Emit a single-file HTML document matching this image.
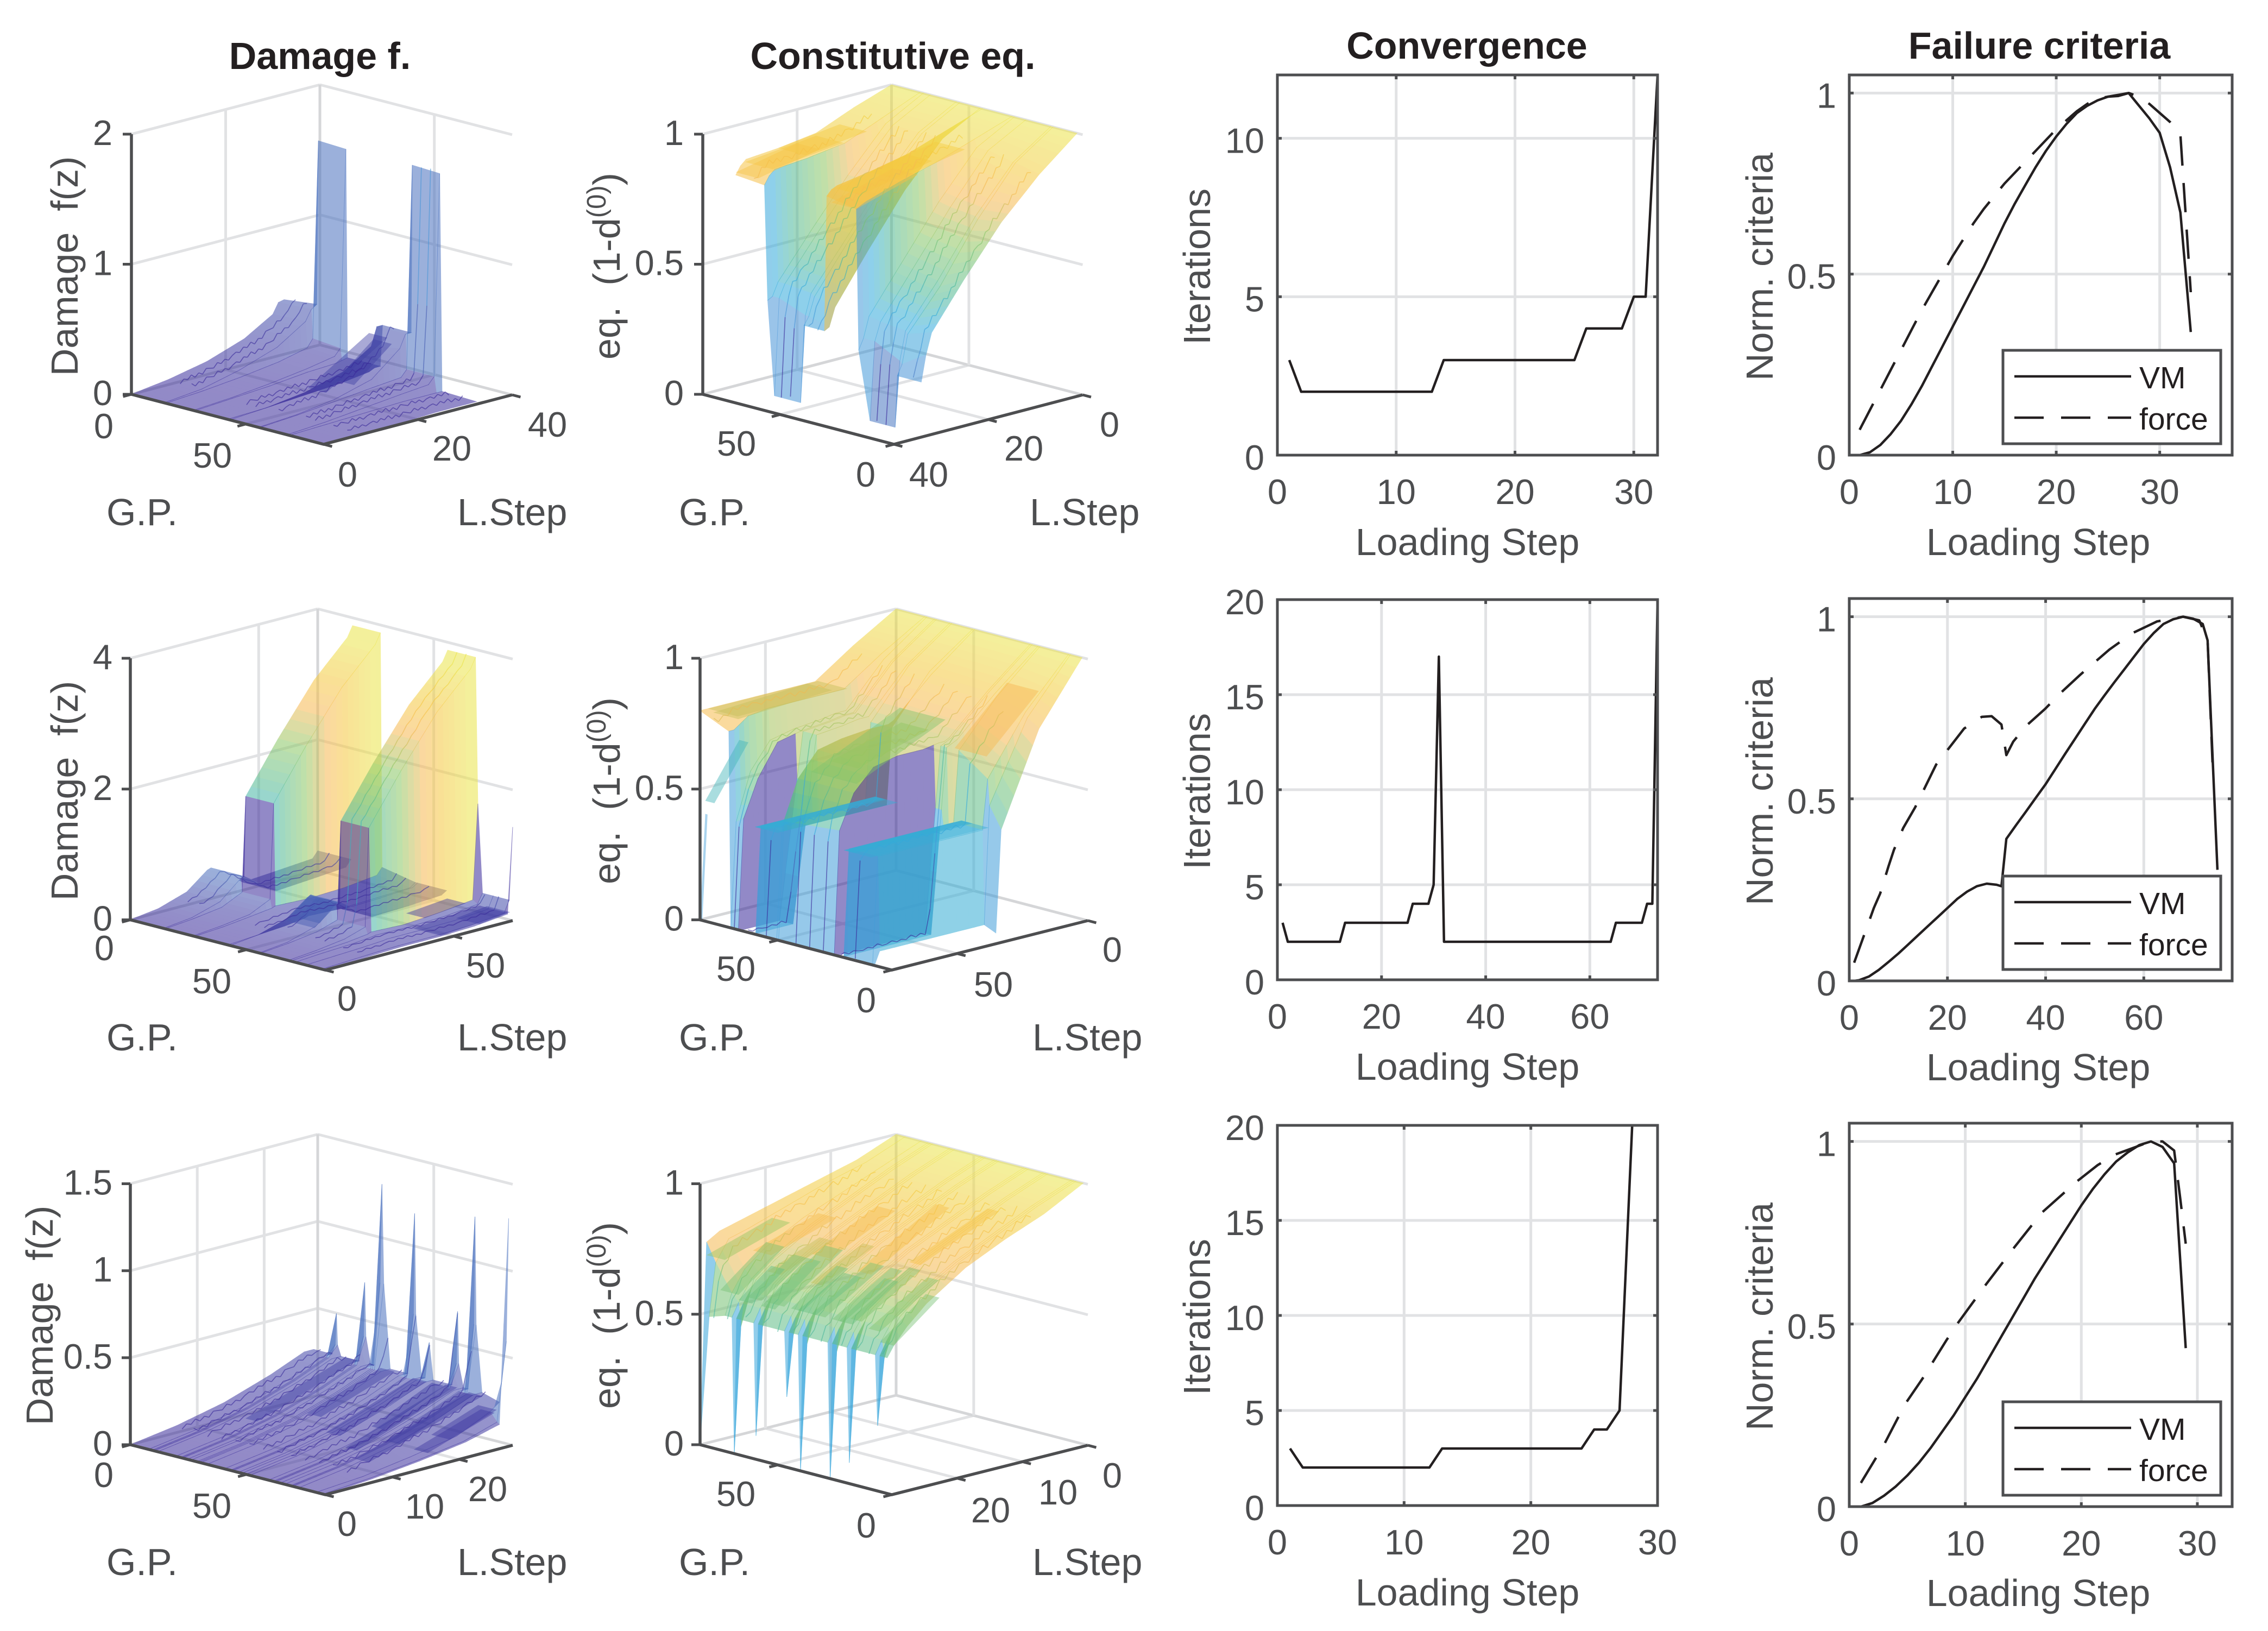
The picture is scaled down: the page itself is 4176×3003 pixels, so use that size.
<!DOCTYPE html>
<html><head><meta charset="utf-8"><title>Damage, constitutive, convergence and failure charts</title>
<style>
html,body{margin:0;padding:0;background:#fff}
svg{display:block}
text{font-family:"Liberation Sans",Arial,sans-serif;white-space:pre}
.title{font-size:70px;font-weight:bold;fill:#231f20;text-anchor:middle}
.lab{font-size:70px;fill:#4d4e50}
.mid{text-anchor:middle}
.leg{font-size:57px;fill:#231f20}
.lbox{fill:#fff;stroke:#4d4e50;stroke-width:5}
.lsolid{stroke:#231f20;stroke-width:4.5;fill:none}
.ldash{stroke:#231f20;stroke-width:4.5;fill:none;stroke-dasharray:54 32}
</style></head>
<body>
<svg xmlns="http://www.w3.org/2000/svg" width="4176" height="3003" viewBox="0 0 4176 3003">
<rect width="4176" height="3003" fill="#fff"/>
<g id="plots"></g>

<text class="title" x="589" y="127">Damage f.</text>
<text class="title" x="1644" y="127">Constitutive eq.</text>
<text class="title" x="2701" y="108">Convergence</text>
<text class="title" x="3755" y="108">Failure criteria</text>

<text class="lab mid" transform="translate(143,490) rotate(-90)">Damage  f(z)</text>
<text class="lab mid" transform="translate(143,1456) rotate(-90)">Damage  f(z)</text>
<text class="lab mid" transform="translate(97,2422) rotate(-90)">Damage  f(z)</text>

<text class="lab mid" transform="translate(1141,490) rotate(-90)">eq.  (1-d<tspan dy="-26" font-size="49">(0)</tspan><tspan dy="26">)</tspan></text>
<text class="lab mid" transform="translate(1141,1456) rotate(-90)">eq.  (1-d<tspan dy="-26" font-size="49">(0)</tspan><tspan dy="26">)</tspan></text>
<text class="lab mid" transform="translate(1141,2422) rotate(-90)">eq.  (1-d<tspan dy="-26" font-size="49">(0)</tspan><tspan dy="26">)</tspan></text>

<text class="lab" x="196" y="967">G.P.</text>
<text class="lab" x="196" y="1934">G.P.</text>
<text class="lab" x="196" y="2900">G.P.</text>
<text class="lab" x="842" y="967">L.Step</text>
<text class="lab" x="842" y="1934">L.Step</text>
<text class="lab" x="842" y="2900">L.Step</text>
<text class="lab" x="1250" y="967">G.P.</text>
<text class="lab" x="1250" y="1934">G.P.</text>
<text class="lab" x="1250" y="2900">G.P.</text>
<text class="lab" x="1896" y="967">L.Step</text>
<text class="lab" x="1901" y="1934">L.Step</text>
<text class="lab" x="1901" y="2900">L.Step</text>

<text class="lab mid" x="2702" y="1022">Loading Step</text>
<text class="lab mid" x="2702" y="1988">Loading Step</text>
<text class="lab mid" x="2702" y="2956">Loading Step</text>
<text class="lab mid" x="3753" y="1022">Loading Step</text>
<text class="lab mid" x="3753" y="1989">Loading Step</text>
<text class="lab mid" x="3753" y="2957">Loading Step</text>

<text class="lab mid" transform="translate(2228,491) rotate(-90)">Iterations</text>
<text class="lab mid" transform="translate(2228,1457) rotate(-90)">Iterations</text>
<text class="lab mid" transform="translate(2228,2425) rotate(-90)">Iterations</text>
<text class="lab mid" transform="translate(3264,491) rotate(-90)">Norm. criteria</text>
<text class="lab mid" transform="translate(3264,1457) rotate(-90)">Norm. criteria</text>
<text class="lab mid" transform="translate(3264,2424) rotate(-90)">Norm. criteria</text>

<g>
<rect class="lbox" x="3688" y="645" width="401" height="172"/>
<line class="lsolid" x1="3709" x2="3924" y1="693" y2="693"/>
<line class="ldash" x1="3709" x2="3924" y1="769" y2="769"/>
<text class="leg" x="3939" y="715">VM</text>
<text class="leg" x="3939" y="791">force</text>
</g>
<g>
<rect class="lbox" x="3688" y="1613" width="401" height="172"/>
<line class="lsolid" x1="3709" x2="3924" y1="1661" y2="1661"/>
<line class="ldash" x1="3709" x2="3924" y1="1737" y2="1737"/>
<text class="leg" x="3939" y="1683">VM</text>
<text class="leg" x="3939" y="1759">force</text>
</g>
<g>
<rect class="lbox" x="3688" y="2581" width="401" height="172"/>
<line class="lsolid" x1="3709" x2="3924" y1="2629" y2="2629"/>
<line class="ldash" x1="3709" x2="3924" y1="2705" y2="2705"/>
<text class="leg" x="3939" y="2651">VM</text>
<text class="leg" x="3939" y="2727">force</text>
</g>
</svg>
<script>
/* ---------- 2D chart data ---------- */
const conv1Steps=[1,2,13,14,25,26,29,30,31,32];
const conv1Iter=[3,2,2,3,3,4,4,5,5,12];
const conv2Steps=[1,2,12,13,25,26,29,30,31,32,64,65,70,71,72,73];
const conv2Iter=[3,2,2,3,3,4,4,5,17,2,2,3,3,4,4,20];
const conv3Steps=[1,2,12,13,24,25,26,27,28];
const conv3Iter=[3,2,2,3,3,4,4,5,20];

const vm1Steps=[1,2,3,4,5,6,7,8,9,10,11,12,13,14,15,16,17,18,19,20,21,22,23,24,25,26,27,28,29,30,31,32,33];
const vm1Vals=[0,.008,.028,.058,.095,.14,.19,.245,.30,.355,.41,.465,.52,.58,.64,.695,.745,.795,.84,.88,.915,.945,.965,.98,.99,.992,1,.965,.93,.89,.795,.67,.34];
const force1Steps=vm1Steps;
const force1Vals=[.07,.125,.18,.235,.29,.345,.40,.45,.50,.55,.595,.64,.68,.715,.75,.78,.81,.84,.87,.90,.925,.95,.97,.985,.99,.995,1,.99,.97,.945,.92,.885,.45];

const vm2Steps=[1,2,4,6,8,10,12,14,16,18,20,22,24,26,28,30,31,32,34,36,38,40,42,44,46,48,50,52,54,56,58,60,62,64,66,68,70,72,73,74,75];
const vm2Vals=[0,.002,.012,.03,.052,.075,.10,.125,.15,.175,.2,.225,.245,.26,.267,.264,.26,.39,.428,.465,.503,.54,.582,.624,.665,.706,.747,.784,.82,.855,.89,.925,.955,.98,.993,1,.995,.98,.935,.62,.305];
const force2Steps=[1,3,5,6.3,8,9.1,11,13.4,15,17.7,20,23.4,27,29,31,32,33.4,36,39.9,43,47,50,53,57.7,62.7,68,71.3,73,74];
const force2Vals=[.05,.125,.2,.24,.315,.36,.42,.476,.52,.594,.634,.693,.725,.727,.704,.62,.657,.70,.747,.79,.84,.875,.91,.955,.987,1,.99,.935,.6];

const vm3Steps=[1,2,3,4,5,6,7,8,9,10,11,12,13,14,15,16,17,18,19,20,21,22,23,24,25,26,27,28,29];
const vm3Vals=[0,.01,.03,.055,.085,.12,.16,.205,.25,.30,.35,.405,.46,.515,.57,.625,.675,.725,.775,.825,.87,.91,.945,.97,.99,1,.985,.94,.434];
const force3Steps=[1,3,4.8,6.3,8.4,9.3,11.7,14.1,16.6,19.6,21.4,22.9,24.7,26,27,28,28.5,29];
const force3Vals=[.065,.17,.28,.35,.457,.50,.605,.705,.805,.89,.935,.964,.985,1,1,.975,.85,.72];

const iterTicks1=[0,5,10];
const iterTicks23=[0,5,10,15,20];
const normTicks=[0,.5,1];
const conv1XTicks=[0,10,20,30];
const conv2XTicks=[0,20,40,60];
const conv3XTicks=[0,10,20,30];
const fail1XTicks=[0,10,20,30];
const fail2XTicks=[0,20,40,60];
const fail3XTicks=[0,10,20,30];

/* ---------- 3D surface data: rows = G.P. nodes, columns = L.Step nodes ---------- */
const p1Gp=[0,14.3,15,27,27.7,42,43,55.5,56,68,69,84];
const p1Step=[0,8,16,24,30,31.2,32.4];
const p1Z=[
[0,.04,.10,.20,.33,.41,.42],
[0,.03,.10,.20,.34,.42,.45],
[0,.02,.05,.09,.14,.20,1.71],
[0,.02,.05,.09,.13,.18,1.70],
[0,.02,.04,.07,.08,.09,.10],
[0,.01,.03,.05,.08,.10,.10],
[0,.02,.06,.14,.28,.42,.42],
[0,.02,.06,.14,.32,.42,.42],
[0,.02,.05,.08,.10,.15,1.71],
[0,.02,.05,.08,.10,.15,1.70],
[0,.01,.02,.03,.03,.03,.03],
[0,0,.01,.02,.02,.02,.02]];
const p1Patches=[[40,48,18,31,.06,.36],[44,52,22,30,.1,.34]];
const p1Lines=[5,10,34,38,48,60,64,72,78];

const p2Gp=[2.5,13,14,25,30,31,44,45,54,55.5,67,70,71.4,84];
const p2Step=[0,8,16,24,30.8,32,33];
const p2Z=[
[1,.88,.735,.55,.38,.30,.2],
[1,.90,.72,.50,.35,.24,.2],
[1,.90,.73,.52,.36,.25,0],
[1,.92,.74,.54,.37,.30,0],
[1,.92,.75,.55,.38,.30,.26],
[1,.95,.90,.86,.82,.81,.80],
[1,.95,.90,.87,.85,.84,.82],
[1,.92,.76,.56,.38,.31,.30],
[1,.92,.76,.57,.40,.33,.30],
[1,.92,.76,.57,.41,.33,0],
[1,.92,.76,.58,.42,.37,0],
[1,.92,.76,.58,.42,.37,.36],
[1,.94,.88,.86,.85,.83,.80],
[1,.95,.89,.87,.86,.84,.81]];
const p2Patches=[[72,84,11,24,.90,.87],[72,84,16,31,.88,.85],[74,84,20,33,.87,.82],[31,44,10,24,.92,.87],[33,44,16,31,.90,.84],[31,42,20,33,.87,.80]];
const p2Lines=[6,18,22,36,48,52,60,64,76];

const p3Gp=[0,7.8,9.3,9.8,10.3,11.8,19.5,21.5,22,22.5,24.5,26,28.6,29.4,30.2,33,40.5,43,43.5,44,46.5,48,49.8,51.5,59.5,61.5,62,62.5,64.5,66.5,69,69.5,70,72.5,80,83,84];
const p3Step=[0,7,14,21,26,27.4];
const p3Base=[0,.04,.10,.19,.27,.27];
const p3Z=[p3Base,p3Base,
[0,.04,.1,.19,.27,.33],[0,.04,.1,.19,.27,.51],[0,.04,.1,.19,.27,.33],p3Base,p3Base,
[0,.04,.1,.19,.27,.42],[0,.04,.1,.19,.27,.73],[0,.04,.1,.19,.27,.42],p3Base,p3Base,
[0,.04,.1,.19,.27,.75],[0,.04,.1,.19,.27,1.32],[0,.04,.1,.19,.27,.75],p3Base,p3Base,
[0,.04,.1,.19,.27,.62],[0,.04,.1,.19,.27,1.20],[0,.04,.1,.19,.27,.62],p3Base,p3Base,
[0,.04,.1,.19,.27,.48],p3Base,p3Base,
[0,.04,.1,.19,.27,.40],[0,.04,.1,.19,.27,.70],[0,.04,.1,.19,.27,.40],p3Base,p3Base,
[0,.04,.1,.19,.27,.65],[0,.04,.1,.19,.27,1.27],[0,.04,.1,.19,.27,.65],p3Base,
[0,.02,.06,.11,.20,.24],
[0,.02,.05,.09,.15,.60],
[0,.02,.05,.09,.14,1.31]];
const p3Patches=[[15,20,12,27,.08,.28],[30,36,16,27,.12,.27],[44,50,14,27,.08,.26],[58,63,12,27,.06,.27],[68,74,10,27,.05,.26],[76,82,16,26,.07,.2],[52,57,18,27,.1,.26],[64,70,16,27,.08,.25],[72,80,20,27,.1,.2]];
const p3Lines=[3,8,14,20,26,32,38,44,50,56,62,68,74];

const p4Gp=[0,14.3,15,27,27.7,42,43,55.5,56,68,69,71,75.6,82.5,84];
const p4Step=[0,11,22,30,31.4,44,58,71,73];
const p4Z=[
[0,.06,.2,.45,.47,.12,.16,.2,.3],
[0,.05,.18,.45,.47,.12,.16,.2,.3],
[0,.04,.1,.25,1.7,2.45,3.2,3.72,3.88],
[0,.04,.1,.25,1.7,2.45,3.2,3.72,3.88],
[0,.03,.08,.12,.14,.12,.14,.2,.3],
[0,.03,.06,.1,.12,.1,.12,.14,.2],
[0,.05,.18,.42,.45,.1,.12,.15,.2],
[0,.05,.18,.42,.45,.1,.12,.15,.2],
[0,.04,.1,.2,1.7,2.45,3.2,3.72,3.88],
[0,.04,.1,.2,1.7,2.45,3.2,3.72,3.88],
[0,.03,.06,.1,.12,.1,.14,.2,1.65],
[0,.03,.05,.08,.09,.08,.1,.15,.3],
[0,.02,.04,.06,.07,.07,.08,.12,.3],
[0,.02,.04,.05,.05,.05,.07,.12,.3],
[0,.02,.04,.05,.05,.05,.07,.12,1.43]];
const p4Patches=[[43,55,22,31,.15,.45],[46,55,24,31,.2,.45],[72,84,45,71,.06,.14],[58,66,55,71,.06,.12],[74,84,60,72,.08,.14]];
const p4Lines=[5,10,34,38,48,60,64,72,78];

const p5Gp=[2.5,7.6,8.4,21,21.8,24.4,25.2,49.6,50.4,59.6,60.5,66.4,67.2,70.5,71.4,84];
const p5Step=[0,16.5,31,33,35,41,51,60,67.5,73,75];
const p5Z=[
[1,.77,.42,.03,.03,.03,.03,.03,.03,.03,0],
[1,.80,.50,.05,.05,.05,.05,.05,.05,.05,0],
[1,.82,.60,.41,.41,.41,.41,.41,.41,.41,0],
[1,.85,.68,.41,.41,.41,.41,.41,.41,.41,0],
[1,.86,.72,.71,.70,0,0,0,0,0,0],
[1,.86,.72,.71,.70,0,0,0,0,0,0],
[1,.86,.72,.71,.71,.70,.70,.68,.60,.47,0],
[1,.87,.73,.72,.72,.72,.71,.69,.60,.45,0],
[1,.88,.70,.41,.41,.41,.41,.41,.41,.41,0],
[1,.88,.70,.41,.41,.41,.41,.41,.41,.41,0],
[1,.88,.72,.72,.72,.71,.70,0,0,0,0],
[1,.88,.72,.72,.72,.71,.70,0,0,0,0],
[1,.88,.72,.72,.72,.71,.70,.68,.56,.42,0],
[1,.88,.72,.72,.72,.71,.70,.68,.58,.40,0],
[1,.90,.80,.80,.80,.80,.80,.80,.79,.75,.75],
[1,.90,.80,.80,.80,.80,.80,.80,.80,.80,.80]];
const p5Patches=[[50,60,29,75,.41,.41],[55,60,29,75,.41,.41],[56,60,29,75,.41,.41],[9,21,30,75,.41,.41],[16,21,30,75,.41,.41],[17,21,30,75,.41,.41],
[28,48,30,64,.78,.62,.62],[32,44,33,60,.74,.66,.66],[71,84,30,72,.8,.8,.72],[73,84,34,70,.8,.78,.72],[10,24,10,30,.88,.68],
[80,84,60,73,.65,.45,.45],[83,84,73,75,.4,0,.3]];
const p5Lines=[16,23,30,36,42,55,63,69,78];

const p6Gp=[2,5.2,6.2,7.2,17.6,18.6,19.6,26,27,28,39,40,41,45,46,47,58.5,59.5,60.5,68,69,70,73,80,84];
const p6Step=[0,6,12,18,24,27,29,30];
const p6Base=[1,.94,.87,.80,.71,.65,.57,.52];
const p6Z=[
[1,.92,.86,.79,.69,.62,.56,.52],p6Base,
[1,.94,.87,.80,.71,.65,.50,.25],p6Base,p6Base,
[1,.94,.87,.80,.71,.65,.50,.08],p6Base,p6Base,
[1,.94,.87,.80,.71,.65,.48,0],p6Base,p6Base,
[1,.94,.87,.80,.71,.65,.48,0],p6Base,p6Base,
[1,.94,.87,.80,.71,.65,.50,.27],p6Base,p6Base,
[1,.94,.87,.80,.71,.65,.50,.09],p6Base,p6Base,
[1,.94,.87,.80,.71,.65,.48,0],p6Base,
[1,.94,.88,.82,.74,.68,.60,.52],
[1,.94,.90,.85,.80,.78,.70,.5],
[1,.94,.90,.86,.82,.80,.77,0]];
const p6Patches=[
[70,78,14,24,.80,.72,.80],[50,58,12,22,.86,.74,.80],[32,38,10,22,.9,.72,.82],[16,21,8,20,.91,.78,.84],[60,66,18,26,.76,.68,.72],[42,47,18,26,.78,.68,.72],
[70,78,22,29,.74,.60,.60],[60,66,22,29,.72,.60,.60],[50,58,20,29,.76,.60,.60],[42,47,22,29,.72,.60,.58],[32,38,20,29,.74,.60,.60],[24,29,20,29,.74,.60,.60],[16,21,20,29,.76,.62,.62],[8,13,20,29,.74,.60,.62],[76,84,19,29,.8,.72,.66],[54,60,22,29,.72,.58,.58],[36,44,22,29,.70,.6,.56],[20,26,22,29,.72,.6,.58],[64,70,24,29,.68,.58,.56],[2,8,22,29,.7,.56,.6]];
const p6Lines=[4,10,15,22,31,36,43,50,56,64,72,78];

const rippleOffsets=[.006,-.004,.008,-.002,.010,-.006,.004,-.008,.007,.001,-.005,.009,-.003,.005,-.007,.002];
const gpTicksAll=[0,50];
const p1StepTicks=[0,20,40],p2StepTicks=[0,20,40],p3StepTicks=[0,10,20],p4StepTicks=[0,50],p5StepTicks=[0,50],p6StepTicks=[0,10,20];
const p1ZTicks=[0,1,2],p3ZTicks=[0,.5,1,1.5],p4ZTicks=[0,2,4],eqZTicks=[0,.5,1];

/* ---------- helpers ---------- */
const NS='http://www.w3.org/2000/svg';
const root=document.getElementById('plots');
function mk(tag,attrs,parent){
  const el=document.createElementNS(NS,tag);
  for(const k in attrs)el.setAttribute(k,attrs[k]);
  (parent||root).appendChild(el);
  return el;
}
const AX='#4d4e50',GRID='#e1e2e4',FLOOR='#d5d6d8',CURVE='#231f20';
function txt(s,x,y,anchor,parent){
  const el=mk('text',{x:x,y:y,'font-size':65,fill:AX,'text-anchor':anchor},parent);
  
  
  el.textContent=s;
  return el;
}

/* ---------- colormap ---------- */
const cmapPos=[0,.1,.25,.4,.5,.65,.78,.88,1];
const cmapRGB=[[58,42,154],[74,104,184],[73,149,216],[50,172,220],[78,185,149],[140,199,99],[247,185,82],[245,201,63],[235,229,75]];
function cmap(v){
  v=Math.max(0,Math.min(1,v));
  for(let i=1;i<cmapPos.length;i++){
    if(v<=cmapPos[i]){
      const f=(v-cmapPos[i-1])/(cmapPos[i]-cmapPos[i-1]);
      const c=cmapRGB[i-1].map((a,k)=>Math.round(a+(cmapRGB[i][k]-a)*f));
      return 'rgb('+c.join(',')+')';
    }
  }
  return 'rgb(235,229,75)';
}

/* ---------- 3D panel ---------- */
function panel3D(p){
  const g=mk('g',{});
  
  
  const H=p.L[1]-p.zTopY;
  const gf=v=>v/p.gmax, sf=v=>v/p.smax, zf=v=>v/p.zmax*H;
  function P(gv,sv,zv){
    const t=gf(gv),u=sf(sv);
    if(!p.rev){
      return [p.L[0]+t*(p.F[0]-p.L[0])+u*(p.R[0]-p.F[0]),
              p.L[1]+t*(p.F[1]-p.L[1])+u*(p.R[1]-p.F[1])-zf(zv)];
    }
    return [p.F[0]+t*(p.L[0]-p.F[0])+(1-u)*(p.R[0]-p.F[0]),
            p.F[1]+t*(p.L[1]-p.F[1])+(1-u)*(p.R[1]-p.F[1])-zf(zv)];
  }
  const backG=p.rev?p.gmax:0, backS=p.rev?0:p.smax;
  const frontS=p.rev?p.smax:0;
  const ln=(a,b,col,w,par)=>{
    const el=mk('line',{x1:a[0],y1:a[1],x2:b[0],y2:b[1],stroke:col,'stroke-width':w},par||g);
    
    
    return el;
  };
  /* floor grid */
  p.stepTicks.forEach(s=>{
    if(s<=0||s>=p.smax)return;
    ln(P(0,s,0),P(p.gmax,s,0),GRID,5);
  });
  p.gpTicks.forEach(v=>{
    if(v<=0||v>=p.gmax)return;
    ln(P(v,0,0),P(v,p.smax,0),GRID,5);
  });
  /* back wall grid */
  const leftEndG=p.rev?p.gmax:0, leftEndS=p.rev?p.smax:0;
  const rightEndG=p.rev?0:p.gmax, rightEndS=p.rev?0:p.smax;
  p.zTicks.forEach(z=>{
    ln(P(leftEndG,leftEndS,z),P(backG,backS,z),z===0?FLOOR:GRID,5);
    ln(P(backG,backS,z),P(rightEndG,rightEndS,z),z===0?FLOOR:GRID,5);
  });
  ln(P(backG,backS,0),P(backG,backS,p.zmax),FLOOR,5);
  p.stepTicks.forEach(s=>{
    if(s<=0||s>=p.smax)return;
    ln(P(backG,s,0),P(backG,s,p.zmax),GRID,5);
  });
  p.gpTicks.forEach(v=>{
    if(v<=0||v>=p.gmax)return;
    ln(P(v,backS,0),P(v,backS,p.zmax),GRID,5);
  });

  /* surface strips, back to front */
  const rowIdx=[];
  for(let i=0;i<p.gp.length-1;i++)rowIdx.push(i);
  if(p.rev)rowIdx.reverse();
  const colIdx=[];
  for(let j=0;j<p.step.length-1;j++)colIdx.push(j);
  if(!p.rev)colIdx.reverse();
  const val=z=>(z-p.clim[0])/(p.clim[1]-p.clim[0]);
  rowIdx.forEach(i=>{
    const skipWall=(p.skipRows||[]).indexOf(p.gp[i])>=0;
    const minWall=(p.minRows||[]).indexOf(p.gp[i])>=0;
    const strip=mk('g',{opacity:.55},g);
    
    
    const flat=(p.flatRows||[]).indexOf(p.gp[i])>=0;
    colIdx.forEach(j=>{
      const s0=p.step[j],s1=p.step[j+1],ds=s1-s0;
      const n=Math.max(1,Math.ceil(ds/p.smax*30));
      const a0=p.z[i][j],a1=p.z[i][j+1],b0=p.z[i+1][j],b1=p.z[i+1][j+1];
      if(p.minZ&&Math.max(a0,a1,b0,b1)<p.minZ)return;
      const ja=Math.abs(a1-a0),jb=Math.abs(b1-b0);
      const top=Math.max(a0,a1,b0,b1);
      const cliff=ds/p.smax<=.055&&Math.max(ja,jb)>p.cliffJump&&(Math.min(ja,jb)>p.cliffJump||!p.cliffTop||top<p.cliffTop);
      for(let m=0;m<n;m++){
        const k=p.rev?m:n-1-m;
        const f0=k/n,f1=(k+1)/n,fm=(k+.5)/n;
        const sA=s0+ds*f0,sB=s0+ds*f1;
        const zaM=a0+(a1-a0)*fm,zbM=b0+(b1-b0)*fm;
        const wall=Math.abs(zaM-zbM)>.15*p.zmax;
        if(skipWall&&wall)continue;
        const pts=[P(p.gp[i],sA,a0+(a1-a0)*f0),P(p.gp[i],sB,a0+(a1-a0)*f1),
                   P(p.gp[i+1],sB,b0+(b1-b0)*f1),P(p.gp[i+1],sA,b0+(b1-b0)*f0)];
        let v;
        if(flat&&wall)v=p.flatValue;
        else if(cliff)v=p.cliffValue;
        else if(minWall)v=val(Math.min(zaM,zbM));
        else v=val(Math.max(zaM,zbM));
        const col=cmap(v);
        const q=mk('polygon',{points:pts.map(c=>c[0].toFixed(1)+','+c[1].toFixed(1)).join(' '),fill:col,stroke:col,'stroke-width':.9},strip);
        
        
      }
    });
  });
  /* overlap patches */
  (p.patches||[]).forEach(r=>{
    const pts=[P(r[0],r[2],r[4]),P(r[0],r[3],r[5]),P(r[1],r[3],r[5]),P(r[1],r[2],r[4])];
    const colv=r.length>6?r[6]:val((r[4]+r[5])/2);
    const q=mk('polygon',{points:pts.map(c=>c[0].toFixed(1)+','+c[1].toFixed(1)).join(' '),fill:cmap(colv),opacity:.45},g);
    
    
  });
  /* mesh lines, coloured locally */
  function surf(gv,sv){
    let i=0;while(i<p.gp.length-2&&gv>p.gp[i+1])i++;
    let j=0;while(j<p.step.length-2&&sv>p.step[j+1])j++;
    const a=(gv-p.gp[i])/(p.gp[i+1]-p.gp[i]),b=(sv-p.step[j])/(p.step[j+1]-p.step[j]);
    const z0=p.z[i][j]+(p.z[i][j+1]-p.z[i][j])*b,z1=p.z[i+1][j]+(p.z[i+1][j+1]-p.z[i+1][j])*b;
    return z0+(z1-z0)*a;
  }
  const stepEnd=p.step[p.step.length-1];
  (p.lines||[]).forEach((gv,li)=>{
    const cnt=rippleOffsets.length*2;
    let prev=null;
    const gl=mk('g',{opacity:.6},g);
    
    
    for(let k=1;k<=cnt;k++){
      const sv=stepEnd*(.22+.78*k/cnt);
      const base=surf(gv,sv);
      const z=Math.max(0,base+rippleOffsets[(k+li*3)%rippleOffsets.length]*p.zmax*p.ripple);
      const c=P(gv,sv,z);
      if(prev){
        const seg=mk('line',{x1:prev[0].toFixed(1),y1:prev[1].toFixed(1),x2:c[0].toFixed(1),y2:c[1].toFixed(1),stroke:cmap(val(base)-.03),'stroke-width':1.7},gl);
        
        
      }
      prev=c;
    }
  });

  /* axes */
  const axis=mk('polyline',{points:[P(leftEndG,leftEndS,p.zmax),P(leftEndG,leftEndS,0),P(p.rev?0:p.gmax,frontS,0),P(rightEndG,rightEndS,0)].map(c=>c.join(',')).join(' '),fill:'none',stroke:AX,'stroke-width':5.5},g);
  
  
  const dS=[p.R[0]-p.F[0],p.R[1]-p.F[1]],lS=Math.hypot(dS[0],dS[1]);
  const dG=[p.F[0]-p.L[0],p.F[1]-p.L[1]],lG=Math.hypot(dG[0],dG[1]);
  p.gpTicks.forEach(v=>{
    const a=P(v,frontS,0);
    const tk=mk('line',{x1:a[0],y1:a[1],x2:a[0]-dS[0]/lS*16,y2:a[1]-dS[1]/lS*16,stroke:AX,'stroke-width':5},g);
    
    
  });
  const frontG=p.rev?0:p.gmax;
  p.stepTicks.forEach(s=>{
    if(s>p.smax)return;
    const a=P(frontG,s,0);
    const tk=mk('line',{x1:a[0],y1:a[1],x2:a[0]+dG[0]/lG*16,y2:a[1]+dG[1]/lG*16,stroke:AX,'stroke-width':5},g);
    
    
  });
  p.zTicks.forEach(z=>{
    const a=P(leftEndG,leftEndS,z);
    const tk=mk('line',{x1:a[0],y1:a[1],x2:a[0]-16,y2:a[1],stroke:AX,'stroke-width':5},g);
    
    
    txt(String(z),p.zLabelRight,a[1]+20,'end',g);
  });
  p.gpTicks.forEach((v,i)=>txt(String(v),p.gpLabelPos[i][0],p.gpLabelPos[i][1],'middle',g));
  p.stepTicks.forEach((v,i)=>txt(String(v),p.stepLabelPos[i][0],p.stepLabelPos[i][1],'middle',g));
}

panel3D({name:'damage-surface-1',L:[242,726],F:[596,818],R:[943,727],zTopY:247,zmax:2,gmax:84,smax:40,rev:false,
  gp:p1Gp,step:p1Step,z:p1Z,clim:[0,6],cliffJump:.8,cliffValue:.13,patches:p1Patches,lines:p1Lines,ripple:1,
  gpTicks:gpTicksAll,stepTicks:p1StepTicks,zTicks:p1ZTicks,zLabelRight:207,
  gpLabelPos:[[191,807],[391,861]],stepLabelPos:[[640,896],[832,848],[1008,804]]});
panel3D({name:'constitutive-surface-1',L:[1294,726],F:[1646,818],R:[1993.5,727],zTopY:247,zmax:1,gmax:84,smax:40,rev:true,
  gp:p2Gp,step:p2Step,z:p2Z,clim:[0,1],cliffJump:.3,cliffValue:.25,minRows:[30,70],patches:p2Patches,lines:p2Lines,ripple:1.6,
  gpTicks:gpTicksAll,stepTicks:p2StepTicks,zTicks:eqZTicks,zLabelRight:1259,
  gpLabelPos:[[1594,896],[1356,839]],stepLabelPos:[[2043,804],[1885,848],[1710,896]]});
panel3D({name:'damage-surface-2',L:[240,1693.6],F:[599,1786],R:[944,1695],zTopY:1212,zmax:4,gmax:84,smax:73,rev:false,
  gp:p4Gp,step:p4Step,z:p4Z,clim:[0,3.7],cliffJump:1,cliffValue:0,cliffTop:3,skipRows:[14.3,55.5],patches:p4Patches,lines:p4Lines,ripple:.5,
  gpTicks:gpTicksAll,stepTicks:p4StepTicks,zTicks:p4ZTicks,zLabelRight:207,
  gpLabelPos:[[192,1768],[390,1829]],stepLabelPos:[[639,1861],[894,1800]]});
panel3D({name:'constitutive-surface-2',L:[1289,1693.6],F:[1642,1786],R:[2003,1695],zTopY:1212,zmax:1,gmax:84,smax:75,rev:true,
  gp:p5Gp,step:p5Step,z:p5Z,clim:[0,1],cliffJump:.3,cliffValue:.3,flatRows:[66.4,24.4],flatValue:0,minRows:[70.5],minZ:.06,patches:p5Patches,lines:p5Lines,ripple:1.2,
  gpTicks:gpTicksAll,stepTicks:p5StepTicks,zTicks:eqZTicks,zLabelRight:1259,
  gpLabelPos:[[1595,1864],[1355,1806]],stepLabelPos:[[2048,1771],[1829,1835]]});
panel3D({name:'damage-surface-3',L:[240,2660],F:[599,2752],R:[944,2661],zTopY:2179.5,zmax:1.5,gmax:84,smax:28,rev:false,
  gp:p3Gp,step:p3Step,z:p3Z,clim:[0,6],cliffJump:.15,cliffValue:.13,patches:p3Patches,lines:p3Lines,ripple:1,
  gpTicks:gpTicksAll,stepTicks:p3StepTicks,zTicks:p3ZTicks,zLabelRight:207,
  gpLabelPos:[[191,2738],[390,2795]],stepLabelPos:[[639,2828],[782,2796],[898,2764]]});
panel3D({name:'constitutive-surface-3',L:[1289,2660],F:[1642,2752],R:[2003,2661],zTopY:2179.5,zmax:1,gmax:84,smax:30,rev:true,
  gp:p6Gp,step:p6Step,z:p6Z,clim:[0,1],cliffJump:.2,cliffValue:.36,patches:p6Patches,lines:p6Lines,ripple:1.6,
  gpTicks:gpTicksAll,stepTicks:p6StepTicks,zTicks:eqZTicks,zLabelRight:1259,
  gpLabelPos:[[1595,2831],[1355,2773]],stepLabelPos:[[2048,2739],[1948,2770],[1824,2803]]});

/* ---------- 2D panel ---------- */
let clipN=0;
function panel2D(c){
  const g=mk('g',{});
  
  
  const X=v=>c.x0+(v/c.xmax)*(c.x1-c.x0);
  const Y=v=>c.y1-(v/c.ymax)*(c.y1-c.y0);
  c.xticks.forEach(v=>{
    if(v>0&&v<c.xmax){
      const l=mk('line',{x1:X(v),x2:X(v),y1:c.y0,y2:c.y1,stroke:GRID,'stroke-width':5},g);
      
      
    }
  });
  c.yticks.forEach(v=>{
    if(v>0&&v<c.ymax){
      const l=mk('line',{x1:c.x0,x2:c.x1,y1:Y(v),y2:Y(v),stroke:GRID,'stroke-width':5},g);
      
      
    }
  });
  const id='clip'+(++clipN);
  const cp=mk('clipPath',{id:id},g);
  mk('rect',{x:c.x0,y:c.y0,width:c.x1-c.x0,height:c.y1-c.y0},cp);
  c.series.forEach(s=>{
    const pts=s.x.map((v,i)=>X(v).toFixed(1)+','+Y(s.y[i]).toFixed(1)).join(' ');
    const attrs={points:pts,fill:'none',stroke:CURVE,'stroke-width':4.5,'stroke-linejoin':'round','clip-path':'url(#'+id+')'};
    if(s.dash)attrs['stroke-dasharray']='54 32';
    const l=mk('polyline',attrs,g);
    
    
  });
  const box=mk('rect',{x:c.x0,y:c.y0,width:c.x1-c.x0,height:c.y1-c.y0,fill:'none',stroke:AX,'stroke-width':5},g);
  
  
  c.xticks.forEach(v=>{
    if(v>0&&v<c.xmax){
      [[c.y1,c.y1-8],[c.y0,c.y0+8]].forEach(e=>{
        const t=mk('line',{x1:X(v),x2:X(v),y1:e[0],y2:e[1],stroke:AX,'stroke-width':5},g);
        
        
      });
    }
    txt(String(v),X(v),c.y1+90,'middle',g);
  });
  c.yticks.forEach(v=>{
    if(v>0&&v<c.ymax){
      [[c.x0,c.x0+8],[c.x1,c.x1-8]].forEach(e=>{
        const t=mk('line',{x1:e[0],x2:e[1],y1:Y(v),y2:Y(v),stroke:AX,'stroke-width':5},g);
        
        
      });
    }
    txt(String(v),c.x0-24,Y(v)+27,'end',g);
  });
}
const cx0=2352,cx1=3052,fx0=3405,fx1=4110;
panel2D({name:'convergence-chart-1',x0:cx0,x1:cx1,y0:138,y1:838,xmax:32,ymax:12,xticks:conv1XTicks,yticks:iterTicks1,series:[{name:'iterations-line',x:conv1Steps,y:conv1Iter}]});
panel2D({name:'convergence-chart-2',x0:cx0,x1:cx1,y0:1104,y1:1804,xmax:73,ymax:20,xticks:conv2XTicks,yticks:iterTicks23,series:[{name:'iterations-line',x:conv2Steps,y:conv2Iter}]});
panel2D({name:'convergence-chart-3',x0:cx0,x1:cx1,y0:2072,y1:2772,xmax:30,ymax:20,xticks:conv3XTicks,yticks:iterTicks23,series:[{name:'iterations-line',x:conv3Steps,y:conv3Iter}]});
panel2D({name:'failure-chart-1',x0:fx0,x1:fx1,y0:138,y1:838,xmax:37,ymax:1.05,xticks:fail1XTicks,yticks:normTicks,series:[{name:'vm-line',x:vm1Steps,y:vm1Vals},{name:'force-line',x:force1Steps,y:force1Vals,dash:true}]});
panel2D({name:'failure-chart-2',x0:fx0,x1:fx1,y0:1102,y1:1806,xmax:78,ymax:1.05,xticks:fail2XTicks,yticks:normTicks,series:[{name:'vm-line',x:vm2Steps,y:vm2Vals},{name:'force-line',x:force2Steps,y:force2Vals,dash:true}]});
panel2D({name:'failure-chart-3',x0:fx0,x1:fx1,y0:2068,y1:2774,xmax:33,ymax:1.05,xticks:fail3XTicks,yticks:normTicks,series:[{name:'vm-line',x:vm3Steps,y:vm3Vals},{name:'force-line',x:force3Steps,y:force3Vals,dash:true}]});
</script>
</body></html>
